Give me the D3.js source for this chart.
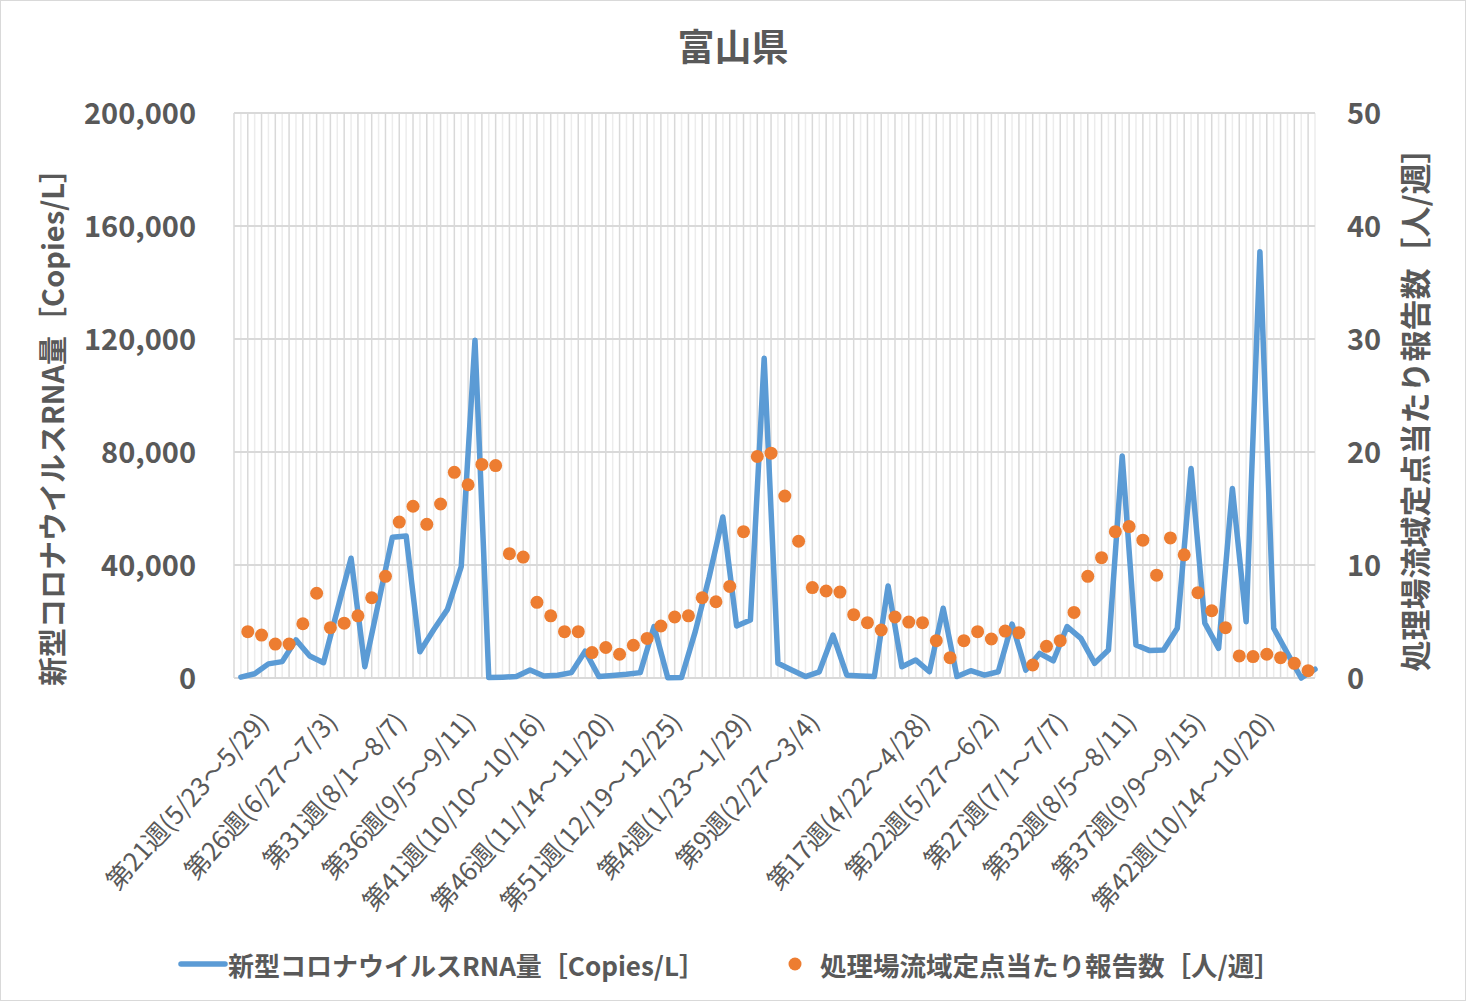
<!DOCTYPE html>
<html>
<head>
<meta charset="utf-8">
<script src="https://cdn.jsdelivr.net/npm/d3@7"></script>
<style>
  body { margin: 0; background: #fff; }
  text { font-family: "Noto Sans CJK JP", "Noto Sans", sans-serif; fill: #595959; }
</style>
</head>
<body>
<svg id="chart" width="1466" height="1001"></svg>
<script>
// 下水中RNA量 (copies/L) per week
var rnaValues = [300, 1500, 5000, 5800, 13500, 7800, 5400, 24000, 42400, 4000,
  26900, 49800, 50300, 9300, 17100, 24300, 39400, 119600, 200, 300,
  500, 2800, 700, 1000, 1900, 9500, 500, 900, 1300, 1900,
  18200, 100, 200, 16500, 35600, 57000, 18400, 20500, 113200, 5200,
  2800, 500, 2200, 15200, 1000, 700, 500, 32600, 4000, 6400,
  2200, 24700, 500, 2600, 1000, 2200, 19100, 2800, 8700, 6100,
  18200, 14000, 5200, 9900, 78600, 11700, 9700, 9900, 17600, 74200,
  19400, 10500, 67100, 19900, 150900, 17600, 8700, 0, 3100];

// 定点当たり報告数 (人/週)
var reportValues = [4.1, 3.8, 3.0, 3.0, 4.8, 7.5, 4.45, 4.85, 5.5, 7.1,
  9.0, 13.8, 15.2, 13.6, 15.4, 18.2, 17.1, 18.9, 18.8, 11.0,
  10.7, 6.7, 5.5, 4.1, 4.1, 2.25, 2.7, 2.1, 2.9, 3.5,
  4.6, 5.4, 5.5, 7.1, 6.75, 8.1, 12.95, 19.6, 19.9, 16.1,
  12.1, 8.0, 7.7, 7.6, 5.6, 4.9, 4.25, 5.4, 4.95, 4.9,
  3.3, 1.8, 3.3, 4.1, 3.45, 4.15, 4.0, 1.15, 2.8, 3.3,
  5.8, 9.0, 10.65, 12.95, 13.4, 12.2, 9.1, 12.4, 10.9, 7.55,
  5.95, 4.45, 1.95, 1.9, 2.1, 1.8, 1.3, 0.65];

var tickIndex = [0, 5, 10, 15, 20, 25, 30, 35, 40, 48, 53, 58, 63, 68, 73];
var tickLabels = ["第21週(5/23～5/29)", "第26週(6/27～7/3)", "第31週(8/1～8/7)",
  "第36週(9/5～9/11)", "第41週(10/10～10/16)", "第46週(11/14～11/20)",
  "第51週(12/19～12/25)", "第4週(1/23～1/29)", "第9週(2/27～3/4)",
  "第17週(4/22～4/28)", "第22週(5/27～6/2)", "第27週(7/1～7/7)",
  "第32週(8/5～8/11)", "第37週(9/9～9/15)", "第42週(10/14～10/20)"];

var leftTicks = [0, 40000, 80000, 120000, 160000, 200000];
var rightTicks = [0, 10, 20, 30, 40, 50];

var title = "富山県";
var leftTitle = "新型コロナウイルスRNA量［Copies/L］";
var rightTitle = "処理場流域定点当たり報告数［人/週］";

var svg = d3.select("#chart");
var W = 1466, H = 1001;
var plot = {left: 234, right: 1315, top: 113, bottom: 678};

svg.append("rect").attr("x", 0.5).attr("y", 0.5)
  .attr("width", W - 1).attr("height", H - 1)
  .attr("fill", "#fff").attr("stroke", "#d9d9d9");

var x = d3.scaleLinear().domain([-0.5, rnaValues.length - 1]).range([plot.left, plot.right]);
var yL = d3.scaleLinear().domain([0, 200000]).range([plot.bottom, plot.top]);
var yR = d3.scaleLinear().domain([0, 50]).range([plot.bottom, plot.top]);

// gridlines
var grid = svg.append("g");
grid.selectAll("line.minor")
  .data(d3.range(0, rnaValues.length))
  .enter().append("line")
  .attr("class", "minor")
  .attr("x1", function(d) { return x(d); }).attr("x2", function(d) { return x(d); })
  .attr("y1", plot.top).attr("y2", plot.bottom)
  .attr("stroke", "#ececec").attr("stroke-width", 1.5);
grid.selectAll("line.major")
  .data(d3.range(0, rnaValues.length))
  .enter().append("line")
  .attr("class", "major")
  .attr("x1", function(d) { return x(d - 0.5); }).attr("x2", function(d) { return x(d - 0.5); })
  .attr("y1", plot.top).attr("y2", plot.bottom)
  .attr("stroke", "#d9d9d9").attr("stroke-width", 1.5);
grid.selectAll("line.h")
  .data(leftTicks)
  .enter().append("line")
  .attr("class", "h")
  .attr("x1", plot.left).attr("x2", plot.right)
  .attr("y1", function(d) { return yL(d); }).attr("y2", function(d) { return yL(d); })
  .attr("stroke", "#d9d9d9").attr("stroke-width", 2);

// axes
var axL = svg.append("g")
  .attr("transform", "translate(" + (plot.left - 38) + ",0)")
  .call(d3.axisLeft(yL).tickValues(leftTicks).tickFormat(d3.format(",")).tickSize(0).tickPadding(0));
axL.select(".domain").remove();
axL.selectAll("text")
  .style("font-size", "29px").style("font-weight", "bold")
  .attr("fill", "#595959").attr("dy", "0.35em");

var axR = svg.append("g")
  .attr("transform", "translate(" + (plot.right + 32) + ",0)")
  .call(d3.axisRight(yR).tickValues(rightTicks).tickSize(0).tickPadding(0));
axR.select(".domain").remove();
axR.selectAll("text")
  .style("font-size", "29px").style("font-weight", "bold")
  .attr("fill", "#595959").attr("dy", "0.35em");

// x labels
svg.append("g").selectAll("text")
  .data(tickIndex)
  .enter().append("text")
  .attr("text-anchor", "end")
  .attr("transform", function(d) { return "translate(" + (x(d) + 29) + "," + 723 + ") rotate(-48)"; })
  .style("font-size", "25.5px")
  .text(function(d, i) { return tickLabels[i]; });

// series
var line = d3.line()
  .x(function(d, i) { return x(i); })
  .y(function(d) { return yL(d); });
svg.append("path")
  .datum(rnaValues)
  .attr("d", line)
  .attr("fill", "none")
  .attr("stroke", "#5b9bd5")
  .attr("stroke-width", 5.5)
  .attr("stroke-linejoin", "round")
  .attr("stroke-linecap", "round");

svg.append("g").selectAll("circle")
  .data(reportValues)
  .enter().append("circle")
  .attr("cx", function(d, i) { return x(i + 0.5); })
  .attr("cy", function(d) { return yR(d); })
  .attr("r", 6.5)
  .attr("fill", "#ed7d31");

// titles
svg.append("text")
  .attr("x", 733).attr("y", 61)
  .attr("text-anchor", "middle")
  .style("font-size", "37px").style("font-weight", "bold")
  .text(title);

svg.append("text")
  .attr("transform", "translate(51,420) rotate(-90)")
  .attr("text-anchor", "middle").attr("dominant-baseline", "central")
  .style("font-size", "29px").style("font-weight", "bold")
  .text(leftTitle);

svg.append("text")
  .attr("transform", "translate(1413,402) rotate(-90)")
  .attr("text-anchor", "middle").attr("dominant-baseline", "central")
  .style("font-size", "31px").style("font-weight", "bold")
  .text(rightTitle);

// legend
var lg = svg.append("g");
lg.append("line")
  .attr("x1", 181).attr("x2", 225).attr("y1", 964).attr("y2", 964)
  .attr("stroke", "#5b9bd5").attr("stroke-width", 5.5).attr("stroke-linecap", "round");
lg.append("text")
  .attr("x", 228).attr("y", 964).attr("dominant-baseline", "central")
  .style("font-size", "26px").style("font-weight", "bold")
  .text(leftTitle);
lg.append("circle")
  .attr("cx", 795).attr("cy", 964).attr("r", 6.5).attr("fill", "#ed7d31");
lg.append("text")
  .attr("x", 820).attr("y", 964).attr("dominant-baseline", "central")
  .style("font-size", "26.5px").style("font-weight", "bold")
  .text(rightTitle);
</script>
</body>
</html>
